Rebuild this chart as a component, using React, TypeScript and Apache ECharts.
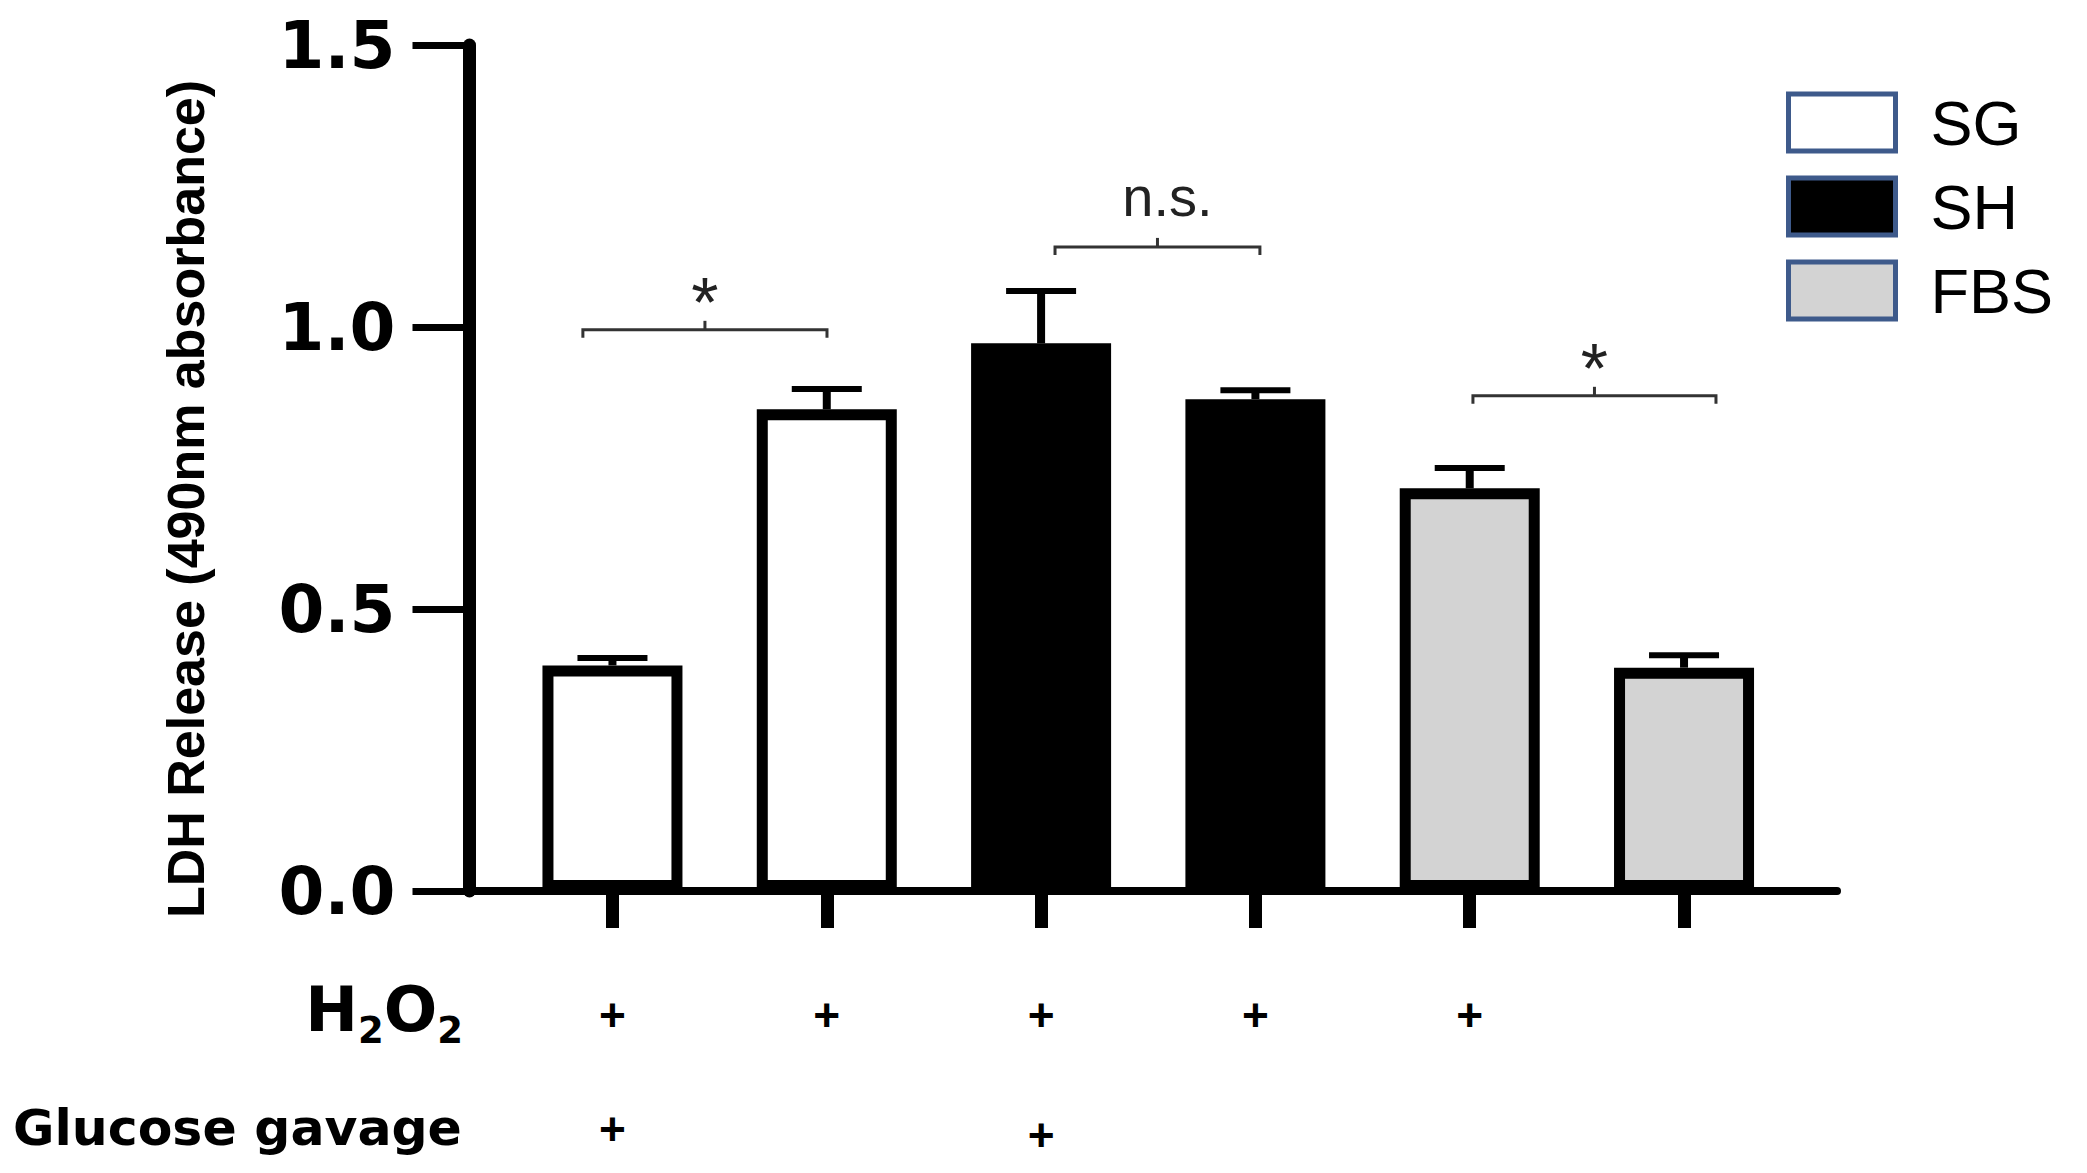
import React, { useEffect, useRef } from 'react';
import * as echarts from 'echarts';

const categories = ['SG-1', 'SG-2', 'SH-1', 'SH-2', 'FBS-1', 'FBS-2'];
const sgValues = [0.400, 0.854, '-', '-', '-', '-'];
const shValues = ['-', '-', 0.971, 0.872, '-', '-'];
const fbsValues = ['-', '-', '-', '-', 0.714, 0.396];
const meanValues = [0.400, 0.854, 0.971, 0.872, 0.714, 0.396];
const upperValues = [0.413, 0.890, 1.064, 0.888, 0.750, 0.418];
const h2o2Row = ['+', '+', '+', '+', '+', ''];
const glucoseRow = ['+', '', '+', '', '', ''];
const bracketStart = [-0.138, 2.065, 4.015];
const bracketEnd = [1.001, 3.021, 5.149];
const bracketY = [0.995, 1.142, 0.878];
const bracketLabel = ['*', 'n.s.', '*'];
const seriesNames = ['SG', 'SH', 'FBS'];

const ARIAL = '"Liberation Sans", Arial, sans-serif';
const WIDE = '"DejaVu Sans", Verdana, sans-serif';

const GRID_TOP = 45;
const GRID_H = 846;

export default function App() {
  const ref = useRef<HTMLDivElement>(null);
  useEffect(() => {
    document.body.style.margin = '0';
    const chart = echarts.init(ref.current as HTMLDivElement, undefined, { renderer: 'svg' });
    const barStyle = (fill: string) => ({ color: fill, borderColor: '#000', borderWidth: 11 });
    const option: any = {
      animation: false,
      backgroundColor: '#fff',
      grid: [
        { left: 505.3, top: GRID_TOP, width: 1285.9, height: GRID_H },
        { left: 469.5, top: GRID_TOP, width: 1367.5, height: GRID_H },
      ],
      legend: {
        orient: 'vertical',
        left: 1781,
        top: 86,
        itemWidth: 107,
        itemHeight: 57,
        itemGap: 21,
        icon: 'rect',
        data: seriesNames,
        itemStyle: { borderColor: '#3e5a8b', borderWidth: 5 },
        textStyle: { fontSize: 63, fontFamily: ARIAL, color: '#000', lineHeight: 57, padding: [0, 0, 0, 30] },
      },
      xAxis: [
        {
          type: 'category',
          gridIndex: 0,
          data: categories,
          axisLine: { show: false },
          axisTick: { show: true, alignWithLabel: true, length: 37, lineStyle: { color: '#000', width: 13 } },
          axisLabel: {
            interval: 0,
            margin: 67,
            formatter: (_v: string, idx: number) =>
              `{a|${h2o2Row[idx] || ' '}}\n{${idx === 2 ? 'c' : 'b'}|${glucoseRow[idx] || ' '}}`,
            rich: {
              a: { fontSize: 46, fontWeight: 'bold', fontFamily: ARIAL, color: '#000', lineHeight: 114 },
              b: { fontSize: 46, fontWeight: 'bold', fontFamily: ARIAL, color: '#000', lineHeight: 114 },
              c: { fontSize: 46, fontWeight: 'bold', fontFamily: ARIAL, color: '#000', lineHeight: 114, padding: [12, 0, 0, 0] },
            },
          },
          splitLine: { show: false },
        },
        {
          type: 'value',
          gridIndex: 1,
          min: 0,
          max: 1,
          axisLine: { show: true, onZero: false, lineStyle: { color: '#000', width: 8 } },
          axisTick: { show: false },
          axisLabel: { show: false },
          splitLine: { show: false },
        },
      ],
      yAxis: [
        { type: 'value', gridIndex: 0, min: 0, max: 1.5, show: false },
        {
          type: 'value',
          gridIndex: 1,
          min: 0,
          max: 1.5,
          interval: 0.5,
          axisLine: { show: true, lineStyle: { color: '#000', width: 13 } },
          axisTick: { show: true, length: 57, lineStyle: { color: '#000', width: 7 } },
          axisLabel: {
            margin: 74,
            fontSize: 66,
            fontWeight: 'bold',
            fontFamily: WIDE,
            color: '#000',
            formatter: (v: number) => v.toFixed(1),
          },
          splitLine: { show: false },
        },
      ],
      graphic: [
        {
          type: 'text',
          x: 186,
          y: 499,
          rotation: Math.PI / 2,
          style: {
            text: 'LDH Release (490nm absorbance)',
            fontSize: 52,
            fontWeight: 'bold',
            fontFamily: ARIAL,
            fill: '#000',
            align: 'center',
            verticalAlign: 'middle',
          },
        },
        {
          type: 'text',
          x: 463,
          y: 977.5,
          style: {
            text: '{h|H}{s|2}{h|O}{s|2}',
            align: 'right',
            verticalAlign: 'top',
            rich: {
              h: { fontSize: 63, fontWeight: 'bold', fontFamily: WIDE, fill: '#000', lineHeight: 62, verticalAlign: 'top' },
              s: { fontSize: 37, fontWeight: 'bold', fontFamily: WIDE, fill: '#000', lineHeight: 36, verticalAlign: 'top', padding: [34, 0, 0, 0] },
            },
          },
        },
        {
          type: 'text',
          x: 13,
          y: 1127,
          style: {
            text: 'Glucose gavage',
            fontSize: 50.5,
            fontWeight: 'bold',
            fontFamily: WIDE,
            fill: '#000',
            align: 'left',
            verticalAlign: 'middle',
          },
        },
      ],
      series: [
        { name: 'SG', type: 'bar', xAxisIndex: 0, yAxisIndex: 0, data: sgValues, barWidth: 140, barGap: '-100%', itemStyle: barStyle('#ffffff') },
        { name: 'SH', type: 'bar', xAxisIndex: 0, yAxisIndex: 0, data: shValues, barWidth: 140, barGap: '-100%', itemStyle: barStyle('#000000') },
        { name: 'FBS', type: 'bar', xAxisIndex: 0, yAxisIndex: 0, data: fbsValues, barWidth: 140, barGap: '-100%', itemStyle: barStyle('#d3d3d3') },
        {
          type: 'custom',
          xAxisIndex: 0,
          yAxisIndex: 0,
          silent: true,
          z: 5,
          data: meanValues.map((m, i) => [i, m, upperValues[i]]),
          renderItem: (_p: any, api: any) => {
            const i = api.value(0);
            const base = api.coord([i, api.value(1)]);
            const top = api.coord([i, api.value(2)]);
            return {
              type: 'group',
              children: [
                { type: 'line', shape: { x1: base[0], y1: base[1], x2: top[0], y2: top[1] }, style: { stroke: '#000', lineWidth: 8 } },
                { type: 'line', shape: { x1: top[0] - 35, y1: top[1], x2: top[0] + 35, y2: top[1] }, style: { stroke: '#000', lineWidth: 6 } },
              ],
            };
          },
        },
        {
          type: 'custom',
          xAxisIndex: 0,
          yAxisIndex: 0,
          silent: true,
          z: 6,
          data: bracketY.map((y, i) => [0, y, i]),
          renderItem: (p: any, api: any) => {
            const idx = p.dataIndex;
            const c0 = api.coord([0, api.value(1)]);
            const c1 = api.coord([1, api.value(1)]);
            const bw = c1[0] - c0[0];
            const yb = c0[1];
            const x1 = c0[0] + bracketStart[idx] * bw;
            const x2 = c0[0] + bracketEnd[idx] * bw;
            const xm = (x1 + x2) / 2;
            const lab = bracketLabel[idx];
            const isStar = lab === '*';
            return {
              type: 'group',
              children: [
                {
                  type: 'polyline',
                  shape: { points: [[x1, yb + 8], [x1, yb], [x2, yb], [x2, yb + 8]] },
                  style: { stroke: '#333', lineWidth: 3, fill: 'none' },
                },
                { type: 'line', shape: { x1: xm, y1: yb, x2: xm, y2: yb - 9 }, style: { stroke: '#333', lineWidth: 3 } },
                {
                  type: 'text',
                  style: {
                    text: lab,
                    x: isStar ? xm : xm + 10,
                    y: isStar ? yb - 27 : yb - 50,
                    align: 'center',
                    verticalAlign: 'middle',
                    fontSize: isStar ? 70 : 56,
                    fontFamily: ARIAL,
                    fill: '#222',
                  },
                },
              ],
            };
          },
        },
      ],
    };
    chart.setOption(option);
    return () => chart.dispose();
  }, []);
  return <div ref={ref} style={{ width: 2087, height: 1173, background: '#fff' }} />;
}
